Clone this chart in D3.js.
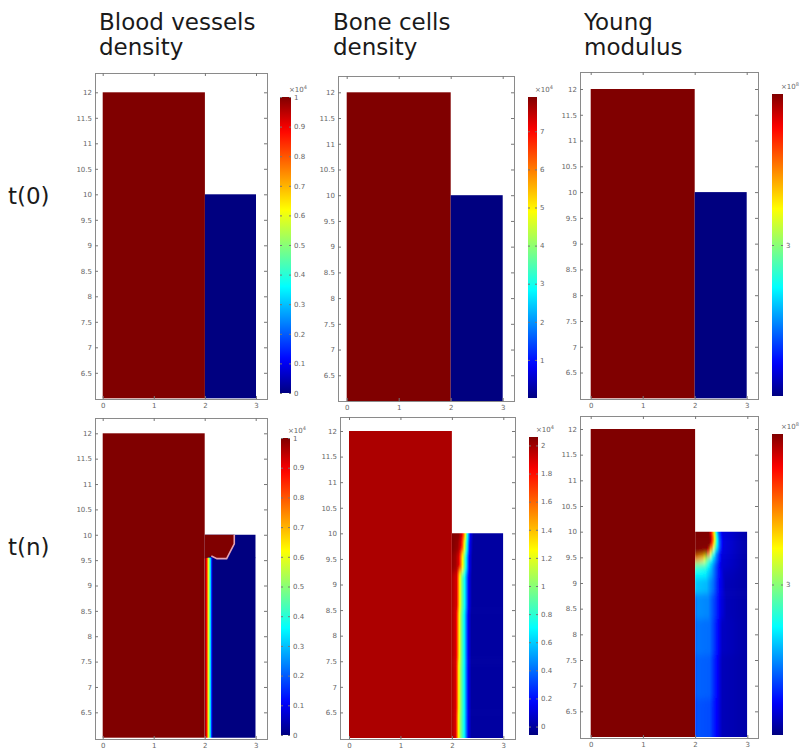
<!DOCTYPE html>
<html>
<head>
<meta charset="utf-8">
<script src="https://cdn.jsdelivr.net/npm/d3@7"></script>
<style>
  body { margin: 0; background: #fff; }
  svg { display: block; }
</style>
</head>
<body>
<svg id="chart"></svg>
<script>
// ---- data ----
const colTitles = [["Blood vessels", "density"], ["Bone cells", "density"], ["Young", "modulus"]];
const rowLabels = ["t(0)", "t(n)"];
const xTicks = [0, 1, 2, 3];
const yTicks = [6.5, 7, 7.5, 8, 8.5, 9, 9.5, 10, 10.5, 11, 11.5, 12];

// colour bar ranges / ticks / exponent, panel order: row by row
const cbRanges = [[0, 1], [0, 7.9], [0, 6], [0, 1], [-0.06, 2.06], [0, 6]];
const cbTicks = [
  [0, 0.1, 0.2, 0.3, 0.4, 0.5, 0.6, 0.7, 0.8, 0.9, 1],
  [1, 2, 3, 4, 5, 6, 7],
  [3],
  [0, 0.1, 0.2, 0.3, 0.4, 0.5, 0.6, 0.7, 0.8, 0.9, 1],
  [0, 0.2, 0.4, 0.6, 0.8, 1, 1.2, 1.4, 1.6, 1.8, 2],
  [3]
];
const cbExp = ["4", "4", "8", "4", "4", "8"];

// geometry: [x0, x1, y0, y1]
const boneBlock = [0, 2, 6, 12];
const implantBlock = [2, 3, 6, 10];
const boneValues = [1, 7.9, 6, 1, 1.98, 6];
const implantValuesT0 = [0, 0, 0];

// t(n) fields in the implant block: rows of (x, value) profiles
const vesselRows = [
  { y: 9.8, x: [2, 3], v: [0, 0] },
  { y: 9.3, x: [2, 2.02, 2.045, 2.065, 2.09, 2.11, 2.135, 2.16, 3], v: [1, 0.95, 0.85, 0.65, 0.5, 0.35, 0.15, 0, 0] }
];
const vesselBlob = [[2, 10], [2.58, 10], [2.58, 9.82], [2.43, 9.53], [2.24, 9.53], [2.13, 9.58], [2, 9.53]];
const vesselBlobEdge = [[2.58, 10], [2.58, 9.82], [2.43, 9.53], [2.24, 9.53], [2.13, 9.58]];

const boneRows = [
  { y: 10.0, x: [2, 2.13, 2.19, 2.23, 2.26, 2.3, 2.36, 2.42, 3], v: [2.06, 2.04, 1.9, 1.6, 1.25, 0.75, 0.15, 0, 0] },
  { y: 9.75, x: [2, 2.11, 2.17, 2.21, 2.24, 2.29, 2.35, 2.41, 3], v: [2.06, 2.02, 1.9, 1.6, 1.25, 0.75, 0.15, 0, 0] },
  { y: 9.5, x: [2, 2.07, 2.13, 2.17, 2.21, 2.27, 2.34, 2.4, 3], v: [2.03, 2.0, 1.9, 1.6, 1.25, 0.75, 0.15, 0, 0] },
  { y: 9.0, x: [2, 2.09, 2.12, 2.15, 2.19, 2.25, 2.33, 2.39, 3], v: [1.98, 1.9, 1.6, 1.3, 1.0, 0.7, 0.15, 0, 0] },
  { y: 8.0, x: [2, 2.08, 2.11, 2.14, 2.18, 2.24, 2.32, 2.38, 3], v: [1.98, 1.9, 1.6, 1.3, 1.0, 0.7, 0.15, 0, 0] },
  { y: 7.0, x: [2, 2.075, 2.105, 2.13, 2.175, 2.24, 2.32, 2.38, 3], v: [1.98, 1.9, 1.6, 1.3, 1.0, 0.7, 0.15, 0, 0] },
  { y: 6.0, x: [2, 2.07, 2.1, 2.125, 2.17, 2.24, 2.32, 2.38, 3], v: [1.98, 1.9, 1.6, 1.3, 1.0, 0.7, 0.15, 0, 0] }
];

const youngRows = [
  { y: 10.0, x: [2, 2.26, 2.31, 2.36, 2.4, 2.45, 2.52, 3], v: [6, 6, 5.2, 3.8, 2.4, 1.2, 0.5, 0.2] },
  { y: 9.85, x: [2, 2.29, 2.34, 2.38, 2.42, 2.47, 2.54, 3], v: [6, 6, 5.0, 3.6, 2.3, 1.2, 0.5, 0.2] },
  { y: 9.7, x: [2, 2.27, 2.32, 2.37, 2.42, 2.48, 2.54, 3], v: [6, 6, 4.8, 3.3, 2.1, 1.1, 0.5, 0.2] },
  { y: 9.58, x: [2, 2.22, 2.28, 2.34, 2.42, 2.5, 3], v: [6, 5.8, 4.2, 2.6, 1.3, 0.5, 0.2] },
  { y: 9.47, x: [2, 2.15, 2.25, 2.35, 2.45, 2.52, 3], v: [4.6, 4.0, 2.8, 1.9, 1.0, 0.45, 0.2] },
  { y: 9.35, x: [2, 2.2, 2.3, 2.4, 2.5, 3], v: [2.8, 2.5, 1.9, 1.1, 0.45, 0.2] },
  { y: 9.2, x: [2, 2.2, 2.32, 2.45, 2.55, 3], v: [2.2, 2.1, 1.6, 0.8, 0.35, 0.2] },
  { y: 9.0, x: [2, 2.22, 2.35, 2.48, 2.58, 3], v: [1.85, 1.75, 1.3, 0.6, 0.3, 0.2] },
  { y: 8.6, x: [2, 2.05, 2.25, 2.38, 2.5, 2.6, 3], v: [1.3, 1.5, 1.45, 1.0, 0.5, 0.3, 0.2] },
  { y: 8.0, x: [2, 2.05, 2.28, 2.4, 2.52, 3], v: [1.2, 1.35, 1.3, 0.85, 0.35, 0.2] },
  { y: 7.2, x: [2, 2.05, 2.28, 2.4, 2.52, 3], v: [1.1, 1.25, 1.2, 0.75, 0.3, 0.2] },
  { y: 6.3, x: [2, 2.05, 2.28, 2.4, 2.52, 3], v: [1.0, 1.15, 1.1, 0.7, 0.3, 0.2] }
];

// ---- layout (pixels) ----
const svgWidth = 802, svgHeight = 751;
const panels = [
  { l: 95, t: 73, r: 267, b: 399, x0: 102.7, x3: 256, y6: 398.3, y12: 92.3, cb: [280, 97, 291, 393] },
  { l: 338, t: 76, r: 514, b: 401, x0: 346.7, x3: 502.7, y6: 401, y12: 92.3, cb: [528, 97, 537, 398] },
  { l: 580, t: 72, r: 758, b: 399, x0: 590.7, x3: 746.7, y6: 398.3, y12: 89, cb: [772, 94, 783, 396] },
  { l: 95, t: 418, r: 267, b: 739, x0: 102.7, x3: 255.7, y6: 737.7, y12: 433.3, cb: [281, 438, 290, 735] },
  { l: 340, t: 417, r: 515, b: 739, x0: 349, x3: 503.3, y6: 738, y12: 431, cb: [529, 437, 538, 735] },
  { l: 580, t: 416, r: 758, b: 738, x0: 590.7, x3: 747.3, y6: 737, y12: 429, cb: [772, 434, 783, 735] }
];

// jet colormap
const jetPos = [0, 0.11, 0.36, 0.62, 0.89, 1];
const jetCol = ["#000080", "#0000ff", "#00ffff", "#ffff00", "#ff0000", "#800000"];
const jet = d3.scaleLinear().domain(jetPos).range(jetCol).clamp(true);

const svg = d3.select("#chart")
    .attr("width", svgWidth)
    .attr("height", svgHeight);

const defs = svg.append("defs");

// vertical jet gradient for colour bars
const cbGrad = defs.append("linearGradient")
    .attr("id", "jetbar")
    .attr("x1", 0).attr("y1", 1).attr("x2", 0).attr("y2", 0);
d3.range(0, 1.0001, 0.02).forEach(t => {
  cbGrad.append("stop").attr("offset", t).attr("stop-color", jet(t));
});

defs.append("filter").attr("id", "vblur")
    .attr("x", "-5%").attr("y", "-20%").attr("width", "110%").attr("height", "140%")
  .append("feGaussianBlur").attr("stdDeviation", "0 3");

// titles
colTitles.forEach((lines, i) => {
  const tx = [99, 333, 584][i];
  const t = svg.append("text")
      .attr("x", tx).attr("y", 30)
      .attr("font-family", "DejaVu Sans")
      .attr("font-size", 23)
      .attr("fill", "#1a1a1a");
  lines.forEach((s, k) => {
    t.append("tspan").attr("x", tx).attr("y", 30 + k * 25).text(s);
  });
});

rowLabels.forEach((s, i) => {
  svg.append("text")
      .attr("x", 8).attr("y", [204, 555][i])
      .attr("font-family", "DejaVu Sans")
      .attr("font-size", 23)
      .attr("fill", "#1a1a1a")
      .text(s);
});

function drawField(p, idx, x, y, rows, norm, blur) {
  const clipId = "clip" + idx;
  defs.append("clipPath").attr("id", clipId)
    .append("rect")
      .attr("x", x(implantBlock[0])).attr("y", y(implantBlock[3]))
      .attr("width", x(implantBlock[1]) - x(implantBlock[0]))
      .attr("height", y(implantBlock[2]) - y(implantBlock[3]));

  const outer = svg.append("g").attr("clip-path", `url(#${clipId})`);
  const inner = outer.append("g");
  if (blur) inner.attr("filter", "url(#vblur)");

  rows.forEach((row, i) => {
    const gid = `f${idx}_${i}`;
    const grad = defs.append("linearGradient")
        .attr("id", gid)
        .attr("gradientUnits", "userSpaceOnUse")
        .attr("x1", x(2)).attr("x2", x(3)).attr("y1", 0).attr("y2", 0);
    for (let j = 0; j < row.x.length - 1; j++) {
      for (let k = 0; k < 8; k++) {
        const xv = row.x[j] + (row.x[j + 1] - row.x[j]) * k / 8;
        const vv = row.v[j] + (row.v[j + 1] - row.v[j]) * k / 8;
        grad.append("stop").attr("offset", (xv - 2)).attr("stop-color", jet(norm(vv)));
      }
    }
    grad.append("stop").attr("offset", 1).attr("stop-color", jet(norm(row.v[row.v.length - 1])));

    const top = i === 0 ? 10.6 : (rows[i - 1].y + row.y) / 2;
    const bot = i === rows.length - 1 ? 5.4 : (row.y + rows[i + 1].y) / 2;
    inner.append("rect")
        .attr("x", x(2)).attr("width", x(3) - x(2))
        .attr("y", y(top)).attr("height", y(bot) - y(top) + 0.5)
        .attr("fill", `url(#${gid})`);
  });
}

panels.forEach((p, idx) => {
  const row = Math.floor(idx / 3), col = idx % 3;
  const x = d3.scaleLinear().domain([0, 3]).range([p.x0, p.x3]);
  const y = d3.scaleLinear().domain([6, 12]).range([p.y6, p.y12]);
  const norm = d3.scaleLinear().domain(cbRanges[idx]).range([0, 1]);

  // bone block
  svg.append("rect")
      .attr("x", x(boneBlock[0])).attr("y", y(boneBlock[3]))
      .attr("width", x(boneBlock[1]) - x(boneBlock[0]))
      .attr("height", y(boneBlock[2]) - y(boneBlock[3]))
      .attr("fill", jet(norm(boneValues[idx])));

  // implant block
  if (row === 0) {
    svg.append("rect")
        .attr("x", x(implantBlock[0])).attr("y", y(implantBlock[3]))
        .attr("width", x(implantBlock[1]) - x(implantBlock[0]))
        .attr("height", y(implantBlock[2]) - y(implantBlock[3]))
        .attr("fill", jet(norm(implantValuesT0[col])));
  } else if (col === 0) {
    drawField(p, idx, x, y, vesselRows, norm, false);
    svg.append("path")
        .attr("d", d3.line().x(d => x(d[0])).y(d => y(d[1]))(vesselBlob) + "Z")
        .attr("fill", jet(1));
    svg.append("path")
        .attr("d", d3.line().x(d => x(d[0])).y(d => y(d[1]))(vesselBlobEdge))
        .attr("fill", "none")
        .attr("stroke", "#e3a2b4")
        .attr("stroke-width", 1.6);
  } else if (col === 1) {
    drawField(p, idx, x, y, boneRows, norm, true);
  } else {
    drawField(p, idx, x, y, youngRows, norm, true);
  }

  // frame
  svg.append("rect")
      .attr("x", p.l + 0.5).attr("y", p.t + 0.5)
      .attr("width", p.r - p.l).attr("height", p.b - p.t)
      .attr("fill", "none")
      .attr("stroke", "#8a8a8a")
      .attr("stroke-width", 1);

  const styleAxis = g => {
    g.select(".domain").remove();
    g.attr("font-family", "DejaVu Sans").attr("font-size", 7);
    g.selectAll(".tick line").attr("stroke", "#777");
    g.selectAll(".tick text").attr("fill", "#666");
  };
  const fmt = d3.format("~g");

  svg.append("g")
      .attr("transform", `translate(0,${p.b})`)
      .call(d3.axisBottom(x).tickValues(xTicks).tickSize(-3).tickPadding(4).tickFormat(fmt))
      .call(styleAxis);
  svg.append("g")
      .attr("transform", `translate(0,${p.t})`)
      .call(d3.axisTop(x).tickValues(xTicks).tickSize(-3).tickFormat(""))
      .call(styleAxis);
  svg.append("g")
      .attr("transform", `translate(${p.l},0)`)
      .call(d3.axisLeft(y).tickValues(yTicks).tickSize(-3).tickPadding(3).tickFormat(fmt))
      .call(styleAxis);
  svg.append("g")
      .attr("transform", `translate(${p.r},0)`)
      .call(d3.axisRight(y).tickValues(yTicks).tickSize(-3).tickFormat(""))
      .call(styleAxis);

  // colour bar
  const [cl, ct, cr, cbt] = p.cb;
  svg.append("rect")
      .attr("x", cl).attr("y", ct)
      .attr("width", cr - cl).attr("height", cbt - ct)
      .attr("fill", "url(#jetbar)");
  const cy = d3.scaleLinear().domain(cbRanges[idx]).range([cbt, ct]);
  svg.append("g")
      .attr("transform", `translate(${cr},0)`)
      .call(d3.axisRight(cy).tickValues(cbTicks[idx]).tickSize(-2).tickPadding(3)
            .tickFormat(d => fmt(+d.toFixed(2))))
      .call(styleAxis);
  svg.append("g")
      .attr("transform", `translate(${cl},0)`)
      .call(d3.axisLeft(cy).tickValues(cbTicks[idx]).tickSize(-2).tickFormat(""))
      .call(styleAxis);

  const ex = svg.append("text")
      .attr("x", cr - 2).attr("y", ct - 5)
      .attr("font-family", "DejaVu Sans")
      .attr("font-size", 7)
      .attr("fill", "#666")
      .text("×10");
  ex.append("tspan").attr("dy", -3).attr("font-size", 5).text(cbExp[idx]);
});
</script>
</body>
</html>
